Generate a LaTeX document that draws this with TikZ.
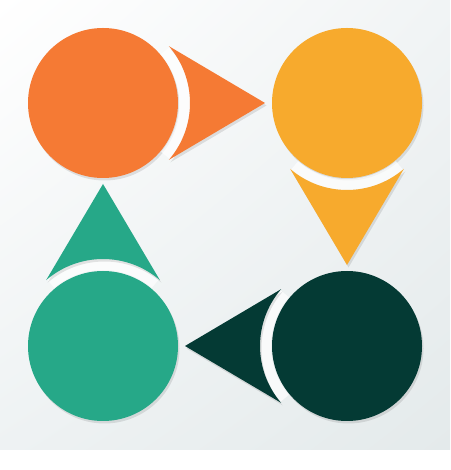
\documentclass[tikz,border=0pt]{standalone}
\usepackage{tikz}
\usetikzlibrary{shadows,shadings}
\definecolor{orangeC}{HTML}{F57A34}
\definecolor{yellowC}{HTML}{F7AA2D}
\definecolor{tealC}{HTML}{26A888}
\definecolor{darkC}{HTML}{043A34}
\definecolor{bgA}{HTML}{F1F4F5}
\definecolor{bgB}{HTML}{EEF2F3}
\definecolor{bgC}{HTML}{E4EAEB}
\tikzstyle{softshadow}=[drop shadow={shadow xshift=1.5pt,shadow yshift=-2.5pt,opacity=0.10,fill=black}]
\tikzstyle{disc}=[circle,minimum size=150pt,inner sep=0pt,softshadow]
\tikzstyle{pointer}=[softshadow]
\tikzstyle{gap}=[white,opacity=0.7]

\begin{document}
\begin{tikzpicture}[x=1pt,y=1pt]
\useasboundingbox (0,0) rectangle (450,470);
% background
\fill[white] (0,0) rectangle (450,20);
\shade[upper left=white,upper right=bgA,lower left=bgB,lower right=bgC] (0,20) rectangle (450,470);
% circles
\node [disc,fill=orangeC] (orange) at (103,367) {};
\node [disc,fill=yellowC] (yellow) at (347,367) {};
\node [disc,fill=darkC] (dark) at (347,124) {};
\node [disc,fill=tealC] (teal) at (103,124) {};
% pointers, concave side hugging the circle they leave
\foreach \src/\ang/\col in {orange/0/orangeC,yellow/-90/yellowC,dark/180/darkC,teal/90/tealC}{
  \fill[gap] ([shift={(\ang+40:76)}]\src.center) arc[start angle=\ang+40,end angle=\ang-40,radius=76]
    -- ([shift={(\ang-40:87)}]\src.center) arc[start angle=\ang-40,end angle=\ang+40,radius=87] -- cycle;
  \fill[pointer,\col] ([shift={(\ang+40.8:87)}]\src.center) arc[start angle=\ang+40.8,end angle=\ang-40.8,radius=87]
    -- ([shift={(\ang:162)}]\src.center) -- cycle;
}
\end{tikzpicture}
\end{document}
